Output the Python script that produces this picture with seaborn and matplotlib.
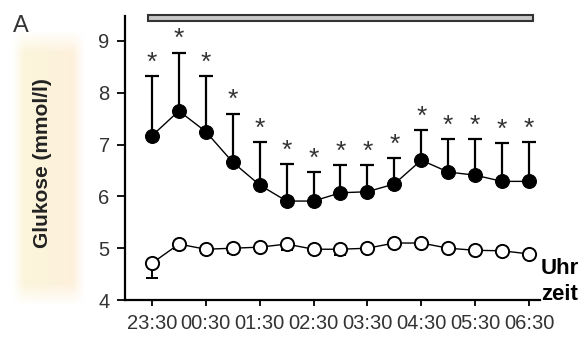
import numpy as np
import pandas as pd
import matplotlib
matplotlib.use("Agg")
import matplotlib.pyplot as plt
import seaborn as sns
from matplotlib.patches import Rectangle

# Half-hourly glucose measurements (mmol/l)
times = ["23:30", "00:00", "00:30", "01:00", "01:30", "02:00", "02:30", "03:00",
         "03:30", "04:00", "04:30", "05:00", "05:30", "06:00", "06:30"]
treated_mean = [7.17, 7.65, 7.25, 6.66, 6.22, 5.91, 5.91, 6.07, 6.09, 6.24,
                6.70, 6.47, 6.41, 6.29, 6.29]
treated_upper = [8.32, 8.77, 8.32, 7.60, 7.05, 6.62, 6.47, 6.60, 6.60, 6.74,
                 7.28, 7.10, 7.10, 7.03, 7.05]
control_mean = [4.71, 5.08, 4.98, 5.00, 5.02, 5.08, 4.98, 4.98, 5.00, 5.10,
                5.10, 5.00, 4.96, 4.95, 4.89]
control_lower = [4.42, 4.98, 4.90, 4.90, 4.94, 4.96, 4.90, 4.86, 4.92, 5.02,
                 5.02, 4.94, 4.90, 4.90, 4.85]
tick_labels = ["23:30", "00:30", "01:30", "02:30", "03:30", "04:30", "05:30", "06:30"]
y_ticks = [4, 5, 6, 7, 8, 9]

idx = np.arange(len(times))
df = pd.DataFrame({
    "t": np.concatenate([idx, idx]),
    "glucose": treated_mean + control_mean,
    "group": ["treated"] * len(idx) + ["control"] * len(idx),
})

sns.set_style("white")
plt.rcParams["font.family"] = ["Liberation Sans", "DejaVu Sans"]

fig = plt.figure(figsize=(5.85, 3.40), dpi=100)
ax = fig.add_axes([0.2137, 0.1176, 0.709, 0.835])

# soft beige backdrop behind the y-axis title
bg = fig.add_axes([0.0, 0.0, 0.2, 1.0], zorder=-5)
bg.set_axis_off()
H, W = 340, 117
yy, xx = np.mgrid[0:H, 0:W]
def soft(v, lo, hi, w):
    return np.clip((v - lo) / w, 0, 1) * np.clip((hi - v) / w, 0, 1)
mask = soft(xx, 12, 84, 12) * soft(yy, 30, 305, 22)
base = np.array([1.0, 1.0, 1.0])
left_tint = np.array([0.985, 0.965, 0.86])
right_tint = np.array([0.995, 0.94, 0.86])
frac = np.clip((xx - 12) / 72.0, 0, 1)[..., None]
tint = left_tint * (1 - frac) + right_tint * frac
img = base[None, None, :] * (1 - mask[..., None]) + tint * mask[..., None]
bg.imshow(img, extent=[0, W, H, 0], aspect="auto")
bg.set_xlim(0, W)
bg.set_ylim(H, 0)

# error bars: upward for treated, downward for control
up = np.array(treated_upper) - np.array(treated_mean)
ax.errorbar(idx, treated_mean, yerr=[np.zeros_like(up), up], fmt="none",
            ecolor="black", elinewidth=1.6, capsize=5, capthick=1.6, zorder=2)
dn = np.array(control_mean) - np.array(control_lower)
ax.errorbar(idx, control_mean, yerr=[dn, np.zeros_like(dn)], fmt="none",
            ecolor="black", elinewidth=1.4, capsize=4, capthick=1.4, zorder=2)

sns.lineplot(data=df[df.group == "treated"], x="t", y="glucose", ax=ax,
             color="black", lw=1.0, marker="o", markersize=10,
             markerfacecolor="black", markeredgecolor="black", zorder=3)
sns.lineplot(data=df[df.group == "control"], x="t", y="glucose", ax=ax,
             color="black", lw=1.0, marker="o", markersize=9.5,
             markerfacecolor="white", markeredgecolor="black",
             markeredgewidth=1.4, zorder=3)

# significance stars above the treated error bars
for i, top in zip(idx, treated_upper):
    ax.text(i, top + 0.03, "*", ha="center", va="bottom", fontsize=19,
            color="#333333")

# horizontal treatment bar above the plot
ax.add_patch(Rectangle((-0.15, 9.39), 14.3, 0.12, facecolor="#c8c8c8",
                       edgecolor="#333333", lw=1.5, clip_on=False, zorder=4))

ax.set_xlim(-1.0, 14.4)
ax.set_ylim(4, 9.48)
ax.set_xticks(idx[::2])
ax.set_xticklabels(tick_labels)
ax.set_yticks(y_ticks)
ax.set_xlabel("")
ax.set_ylabel("")
for s in ["top", "right"]:
    ax.spines[s].set_visible(False)
for s in ["left", "bottom"]:
    ax.spines[s].set_linewidth(1.6)
    ax.spines[s].set_color("black")
ax.tick_params(axis="both", direction="out", width=1.3, color="black",
               labelcolor="#333333", left=True, bottom=True)
ax.tick_params(axis="y", length=6, labelsize=14.5, pad=5)
ax.tick_params(axis="x", length=4, labelsize=14.5, pad=6)

fig.text(0.073, 0.52, "Glukose (mmol/l)", rotation=90, ha="center", va="center",
         fontsize=15, fontweight="bold", color="#222222")
fig.text(0.022, 0.925, "A", fontsize=17, color="#333333", ha="left", va="center")
fig.text(0.925, 0.172, "Uhr\nzeit", fontsize=16, fontweight="bold",
         ha="left", va="center", linespacing=1.3, color="black")

fig.savefig("out.png", dpi=100)
